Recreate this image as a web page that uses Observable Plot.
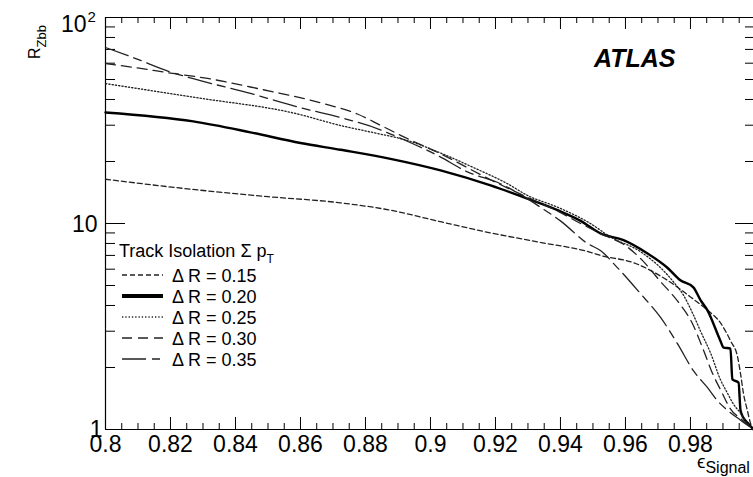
<!DOCTYPE html>
<html><head><meta charset="utf-8">
<script src="https://cdn.jsdelivr.net/npm/d3@7"></script>
<script src="https://cdn.jsdelivr.net/npm/@observablehq/plot@0.6"></script>
<style>
html,body{margin:0;padding:0;background:#fff;overflow:hidden;}
#chart{width:753px;height:477px;overflow:hidden;}
</style></head><body><div id="chart"></div>
<script>
// ---- data ----
const eps015 = [0.800, 0.824, 0.850, 0.8723, 0.8877, 0.9031, 0.9185, 0.9338, 0.9492, 0.9523, 0.9625, 0.9729, 0.9800, 0.9852, 0.9892, 0.9923, 0.9945, 0.9954, 0.9963, 0.9975, 0.9985, 0.9994];
const r015   = [16.4, 14.8, 13.5, 12.6, 11.6, 10.2, 9.0, 8.1, 7.25, 7.0, 6.45, 5.3, 4.4, 3.8, 3.3, 2.7, 2.25, 1.87, 1.5, 1.24, 1.07, 1.0];

const eps020 = [0.800, 0.827, 0.8446, 0.860, 0.8723, 0.8877, 0.9031, 0.9185, 0.9298, 0.9391, 0.9462, 0.9523, 0.9594, 0.9668, 0.9729, 0.9769, 0.9809, 0.9831, 0.9852, 0.9892, 0.9902, 0.9923, 0.9929, 0.9948, 0.9954, 0.9963, 0.9975, 0.9994];
const r020   = [34.6, 31.3, 27.7, 24.6, 22.8, 20.6, 18.1, 15.3, 13.2, 11.6, 10.3, 8.95, 8.3, 7.15, 6.1, 5.3, 4.9, 4.25, 3.8, 2.7, 2.5, 2.47, 1.75, 1.69, 1.24, 1.14, 1.08, 1.0];

const eps025 = [0.800, 0.8277, 0.8585, 0.8723, 0.8825, 0.8929, 0.9031, 0.9132, 0.9237, 0.9298, 0.9391, 0.9492, 0.9554, 0.9646, 0.9708, 0.9748, 0.9778, 0.9809, 0.9831, 0.9862, 0.9892, 0.9914, 0.9932, 0.9954, 0.9975, 0.9994];
const r025   = [47.8, 40.9, 34.2, 29.9, 27.6, 25.3, 22.0, 18.7, 15.6, 13.7, 12.0, 10.0, 8.6, 7.3, 6.1, 5.2, 4.5, 3.6, 3.0, 2.35, 1.75, 1.5, 1.33, 1.2, 1.07, 1.0];

const eps030 = [0.800, 0.8108, 0.8191, 0.8314, 0.8468, 0.8671, 0.8775, 0.8846, 0.8908, 0.9031, 0.9185, 0.9298, 0.9391, 0.9462, 0.955, 0.9591, 0.9652, 0.9705, 0.9766, 0.9806, 0.9837, 0.9868, 0.9898, 0.992, 0.996, 0.9994];
const r030   = [59.8, 56.6, 54.0, 50.6, 45.2, 38.2, 34.0, 30.0, 26.8, 21.8, 16.3, 13.4, 11.5, 10.0, 8.55, 7.98, 6.62, 5.29, 4.09, 3.27, 2.5, 1.87, 1.5, 1.28, 1.11, 1.0];

const eps035 = [0.800, 0.8085, 0.8206, 0.8292, 0.8446, 0.860, 0.8723, 0.8846, 0.8908, 0.9022, 0.9114, 0.9215, 0.9298, 0.9338, 0.940, 0.9483, 0.9523, 0.9575, 0.9646, 0.9708, 0.976, 0.9809, 0.9852, 0.9883, 0.9914, 0.9954, 0.9994];
const r035   = [71.5, 63.9, 54.0, 49.4, 42.8, 36.5, 32.7, 28.5, 25.9, 21.4, 17.8, 15.6, 13.2, 12.0, 10.3, 8.0, 7.39, 6.11, 4.57, 3.5, 2.61, 1.93, 1.6, 1.38, 1.24, 1.11, 1.0];

const seriesNames  = ["0.15", "0.20", "0.25", "0.30", "0.35"];
const legendLabels = ["\u0394 R = 0.15", "\u0394 R = 0.20", "\u0394 R = 0.25", "\u0394 R = 0.30", "\u0394 R = 0.35"];
const xTickLabels  = ["0.8", "0.82", "0.84", "0.86", "0.88", "0.9", "0.92", "0.94", "0.96", "0.98"];
const yMinorVals   = [2, 3, 4, 5, 6, 7, 8, 9, 20, 30, 40, 50, 60, 70, 80, 90];

// ---- styles ----
const F = "'Liberation Sans', Arial, Helvetica, sans-serif";
const styles = {
  "0.15": {dash: "5,3", w: 1.3, c: "#222"},
  "0.20": {dash: null, w: 2.4, c: "#000"},
  "0.25": {dash: "1.3,2", w: 1.3, c: "#222"},
  "0.30": {dash: "10,6", w: 1.3, c: "#222"},
  "0.35": {dash: "24,6,8,6", w: 1.3, c: "#222"}
};

const epsArr = [eps015, eps020, eps025, eps030, eps035];
const rArr = [r015, r020, r025, r030, r035];
const rows = seriesNames.flatMap((s, k) => epsArr[k].map((e, i) => ({series: s, eps: e, r: rArr[k][i]})));

const xMajor = xTickLabels.map(Number);
const xMinor = d3.range(161, 200).filter(i => i % 4 !== 0).map(i => +(i * 0.005).toFixed(3));
const yMajor = [1, 10, 100];

const W = 753, H = 477, mL = 105, mT = 17, mB = 48, mR = 0;
const innerW = W - mL - mR, innerH = H - mT - mB;

const svg = Plot.plot({
  width: W, height: H,
  marginLeft: mL, marginRight: mR, marginTop: mT, marginBottom: mB,
  style: {fontFamily: F, background: "#fff", color: "#000", overflow: "hidden"},
  x: {domain: [0.8, 0.9994], axis: null},
  y: {type: "log", domain: [1, 100], axis: null},
  marks: [
    // frame (left, bottom, top)
    Plot.ruleX([0.8], {stroke: "#000", strokeWidth: 1.2}),
    Plot.ruleY([1], {stroke: "#000", strokeWidth: 1.2}),
    Plot.ruleY([100], {stroke: "#000", strokeWidth: 1.2}),
    // x ticks bottom & top (inward)
    Plot.tickX(xMajor, {x: d => d, insetTop: innerH - 12, stroke: "#000"}),
    Plot.tickX(xMinor, {x: d => d, insetTop: innerH - 6, stroke: "#000"}),
    Plot.tickX(xMajor, {x: d => d, insetBottom: innerH - 12, stroke: "#000"}),
    Plot.tickX(xMinor, {x: d => d, insetBottom: innerH - 6, stroke: "#000"}),
    // y ticks left & right (inward)
    Plot.tickY(yMajor, {y: d => d, insetRight: innerW - 20, stroke: "#000"}),
    Plot.tickY(yMinorVals, {y: d => d, insetRight: innerW - 10, stroke: "#000"}),
    Plot.tickY(yMajor, {y: d => d, insetLeft: innerW - 18, stroke: "#000"}),
    Plot.tickY(yMinorVals, {y: d => d, insetLeft: innerW - 8, stroke: "#000"}),
    // curves
    ...seriesNames.map(s => Plot.line(rows.filter(d => d.series === s), {
      x: "eps", y: "r", stroke: styles[s].c, strokeWidth: styles[s].w,
      strokeDasharray: styles[s].dash, strokeLinejoin: "round", curve: "monotone-x"
    })),
    // axis labels
    Plot.axisX(xMajor, {tickSize: 0, tickPadding: 6, fontSize: 23, tickFormat: d => xTickLabels[xMajor.indexOf(d)], label: null}),
    Plot.text([1], {y: d => d, frameAnchor: "left", text: () => "1", dx: -3, dy: 0, textAnchor: "end", fontSize: 23, fill: "#000"}),
    Plot.text([10], {y: d => d, frameAnchor: "left", text: () => "10", dx: -8, dy: 1, textAnchor: "end", fontSize: 23, fill: "#000"}),
    Plot.text([100], {y: d => d, frameAnchor: "left", text: () => "10", dx: -19, dy: 7.5, textAnchor: "end", fontSize: 23, fill: "#000"}),
    Plot.text([100], {y: d => d, frameAnchor: "left", text: () => "2", dx: -18, dy: 0, textAnchor: "start", fontSize: 15, fill: "#000"})
  ]
});

const root = d3.select(svg).append("g").attr("text-anchor", "start").attr("font-family", F).attr("fill", "#000");
// ATLAS label
root.append("text").attr("x", 594).attr("y", 67)
  .attr("font-size", 25).attr("font-weight", "bold").attr("font-style", "italic").text("ATLAS");

// y axis title R_Zbb
const yt = root.append("text").attr("transform", "translate(40,59) rotate(-90)").attr("font-size", 16);
yt.append("tspan").text("R");
yt.append("tspan").attr("dy", 6).attr("font-size", 13).text("Zbb");

// x axis title epsilon_Signal
const xt = root.append("text").attr("x", 697).attr("y", 468).attr("font-size", 19);
xt.append("tspan").text("\u03F5");
xt.append("tspan").attr("dy", 5).attr("font-size", 16).text("Signal");

// legend
const lg = root.append("g");
const hd = lg.append("text").attr("x", 119).attr("y", 257).attr("font-size", 18);
hd.append("tspan").text("Track Isolation \u03A3 p");
hd.append("tspan").attr("dy", 6).attr("font-size", 12).text("T");
seriesNames.forEach((s, i) => {
  const y = 275 + 21 * i;
  lg.append("line").attr("x1", 122).attr("x2", 163).attr("y1", y).attr("y2", y)
    .attr("stroke", styles[s].c).attr("stroke-width", s === "0.20" ? 4 : 1.3)
    .attr("stroke-dasharray", styles[s].dash);
  lg.append("text").attr("x", 172).attr("y", y + 6.5).attr("font-size", 18).text(legendLabels[i]);
});

document.getElementById("chart").appendChild(svg);
</script>
</body></html>
